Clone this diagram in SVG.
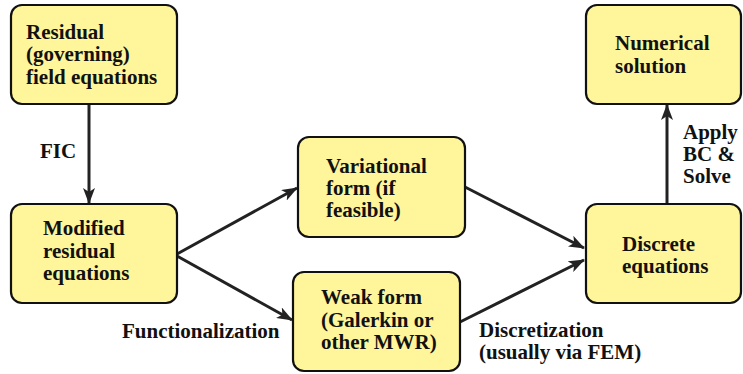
<svg xmlns="http://www.w3.org/2000/svg" width="743" height="374" viewBox="0 0 743 374" font-family="Liberation Serif, Times New Roman, serif" font-weight="bold" font-size="21">
<style>
.box{fill:#FFF59B;stroke:#111;stroke-width:2.2}
.t{fill:#111}
.c{stroke:#222;stroke-width:3;fill:none;marker-end:url(#ah)}
</style>
<defs>
<marker id="ah" viewBox="0 0 16 12" refX="15" refY="6" markerWidth="16" markerHeight="12" markerUnits="userSpaceOnUse" orient="auto">
<path d="M0,0 L16,6 L0,12 L4,6 z" fill="#222"/>
</marker>
</defs>
<rect width="743" height="374" fill="#fff"/>
<g id="connectors">
<line class="c" x1="89" y1="104" x2="89" y2="203"/>
<line class="c" x1="177" y1="254" x2="297" y2="188"/>
<line class="c" x1="177" y1="256" x2="292" y2="320"/>
<line class="c" x1="465" y1="187" x2="584" y2="248"/>
<line class="c" x1="460" y1="322" x2="584" y2="260"/>
<line class="c" x1="667" y1="203" x2="667" y2="105"/>
<text class="t" x="40" y="158">FIC</text>
<text class="t" x="122" y="338">Functionalization</text>
<text class="t" x="479" y="337">Discretization</text>
<text class="t" x="479" y="359">(usually via FEM)</text>
<text class="t" x="683" y="139">Apply</text>
<text class="t" x="683" y="161">BC &amp;</text>
<text class="t" x="683" y="183">Solve</text>
</g>
<g id="residual">
<rect class="box" x="11" y="5" width="166" height="99" rx="11"/>
<text class="t" x="26" y="39">Residual</text>
<text class="t" x="26" y="61">(governing)</text>
<text class="t" x="26" y="84">field equations</text>
</g>
<g id="modified">
<rect class="box" x="11" y="204" width="166" height="99" rx="11"/>
<text class="t" x="43" y="235">Modified</text>
<text class="t" x="43" y="258">residual</text>
<text class="t" x="43" y="280">equations</text>
</g>
<g id="variational">
<rect class="box" x="298" y="137" width="167" height="100" rx="11"/>
<text class="t" x="326" y="173">Variational</text>
<text class="t" x="326" y="195">form  (if</text>
<text class="t" x="326" y="217">feasible)</text>
</g>
<g id="weak">
<rect class="box" x="293" y="272" width="167" height="99" rx="11"/>
<text class="t" x="321" y="304">Weak form</text>
<text class="t" x="321" y="327">(Galerkin or</text>
<text class="t" x="321" y="349">other MWR)</text>
</g>
<g id="numerical">
<rect class="box" x="586" y="5" width="155" height="99" rx="11"/>
<text class="t" x="615" y="50">Numerical</text>
<text class="t" x="615" y="73">solution</text>
</g>
<g id="discrete">
<rect class="box" x="586" y="204" width="155" height="99" rx="11"/>
<text class="t" x="622" y="251">Discrete</text>
<text class="t" x="622" y="273">equations</text>
</g>
</svg>
